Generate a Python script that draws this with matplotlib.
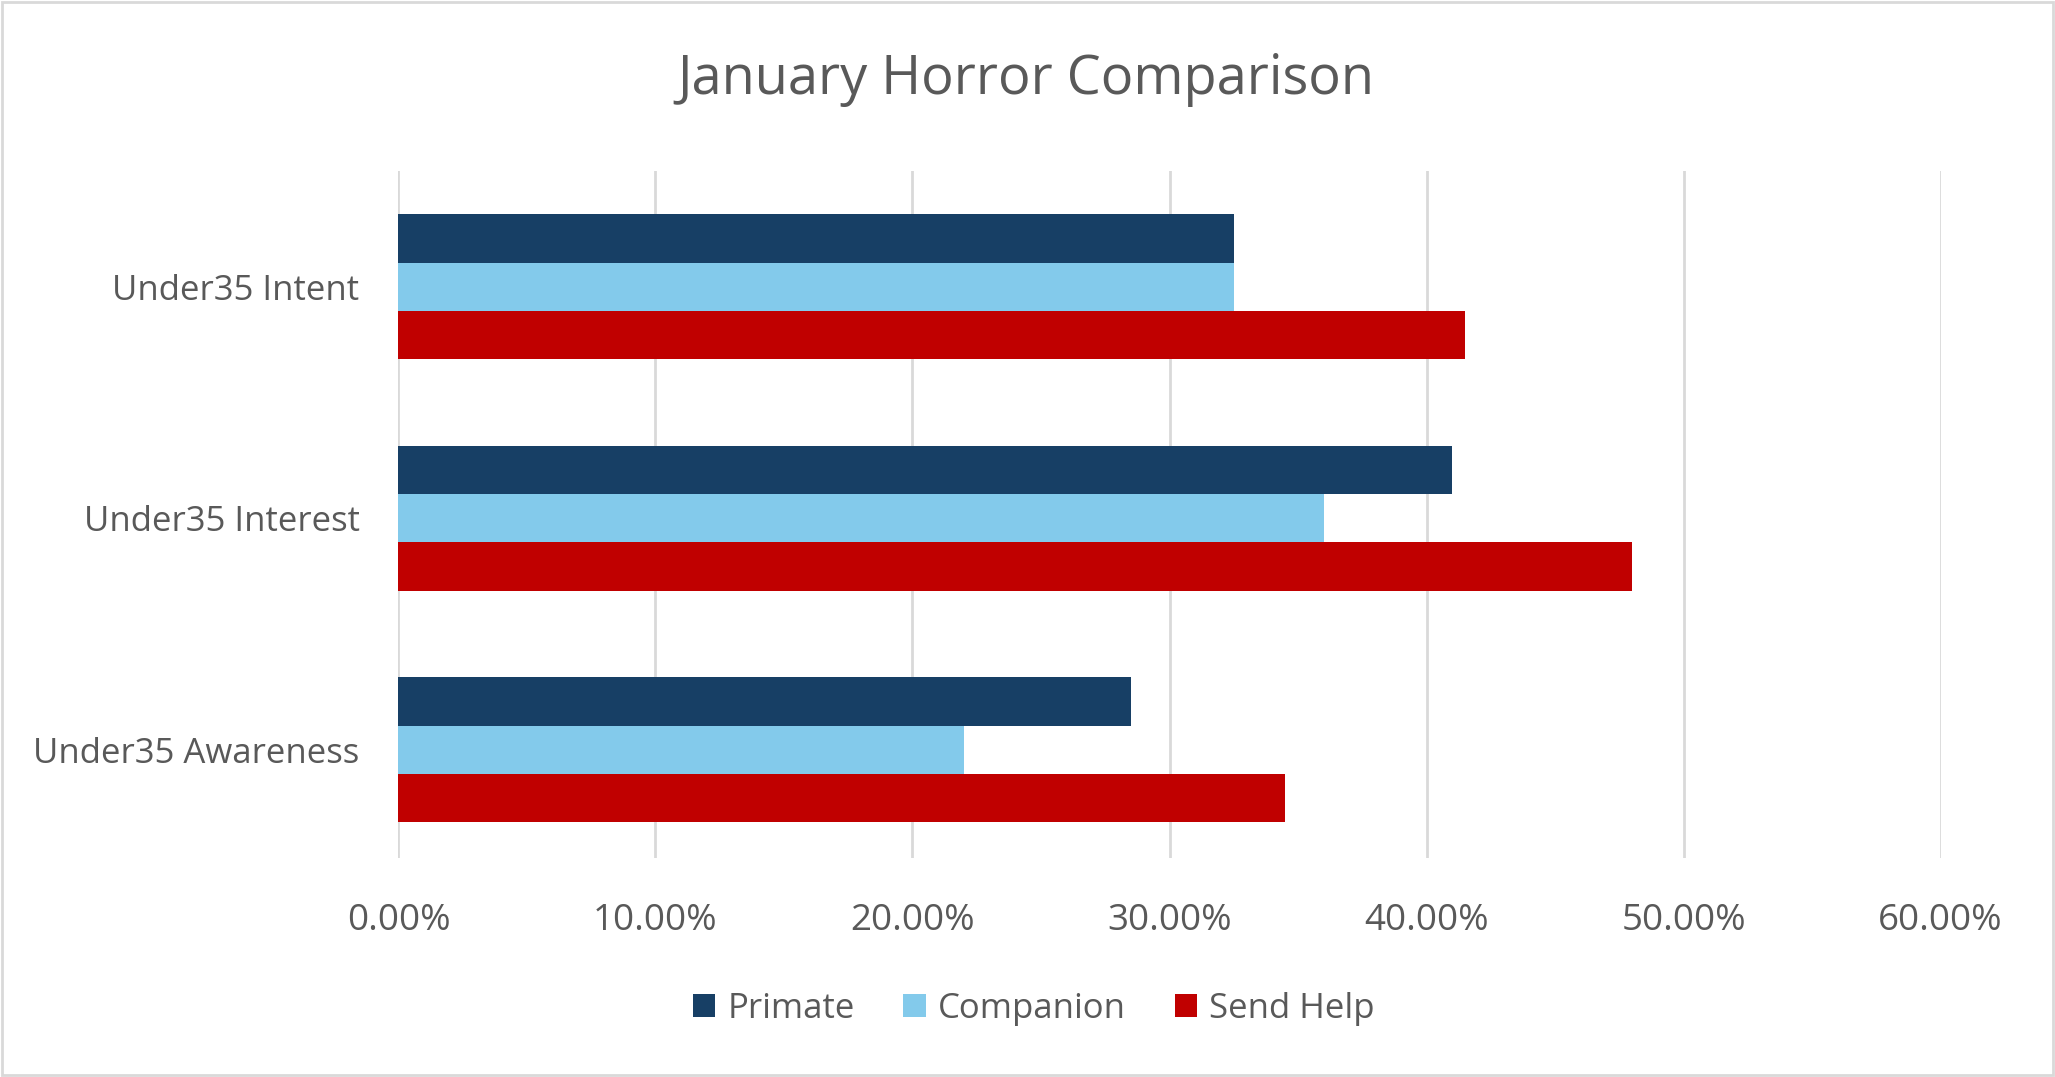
import matplotlib.pyplot as plt
import numpy as np
from matplotlib.patches import Rectangle
from matplotlib.ticker import FuncFormatter

plt.rcParams['font.family'] = ['Open Sans', 'DejaVu Sans']

# data (bottom to top, as Excel draws it)
categories = ['Under35 Awareness', 'Under35 Interest', 'Under35 Intent']
primate = [0.285, 0.41, 0.325]
companion = [0.22, 0.36, 0.325]
send_help = [0.345, 0.48, 0.415]
series_names = ['Primate', 'Companion', 'Send Help']
colors = ['#173F65', '#83CAEB', '#C00000']
xticks = [0, 0.1, 0.2, 0.3, 0.4, 0.5, 0.6]

txt = '#595959'

fig = plt.figure(figsize=(20.55, 10.77), dpi=100)
ax = fig.add_axes([0.1939, 0.2029, 0.7504, 0.6383])

y = np.arange(len(categories))
h = 0.625 / 3
ax.barh(y + h, primate, height=h, color=colors[0], label=series_names[0])
ax.barh(y, companion, height=h, color=colors[1], label=series_names[1])
ax.barh(y - h, send_help, height=h, color=colors[2], label=series_names[2])

ax.set_xlim(0, 0.6)
ax.set_ylim(-0.47, 2.5)
ax.set_xticks(xticks)
ax.xaxis.set_major_formatter(FuncFormatter(lambda v, p: '%.2f%%' % (v * 100)))
ax.set_yticks(y)
ax.set_yticklabels(categories)
ax.tick_params(axis='both', length=0, labelcolor=txt)
ax.tick_params(axis='x', pad=32, labelsize=26.5)
ax.tick_params(axis='y', pad=28, labelsize=25)
ax.grid(axis='x', color='#D9D9D9', linewidth=2)
ax.set_axisbelow(True)
for s in ax.spines.values():
    s.set_visible(False)

fig.text(0.499, 0.926, 'January Horror Comparison', ha='center', va='center',
         fontsize=39, color=txt)

leg = ax.legend(loc='center', ncol=3, frameon=False, fontsize=25, labelcolor=txt,
                handlelength=0.65, handleheight=0.65, handletextpad=0.35,
                columnspacing=1.4)
leg.set_bbox_to_anchor((0.503, 1 - 1009 / 1077), transform=fig.transFigure)

fig.patches.append(Rectangle((0.001, 0.002), 0.998, 0.996, transform=fig.transFigure,
                             fill=False, edgecolor='#D9D9D9', linewidth=2))

fig.savefig('out.png', dpi=100)
